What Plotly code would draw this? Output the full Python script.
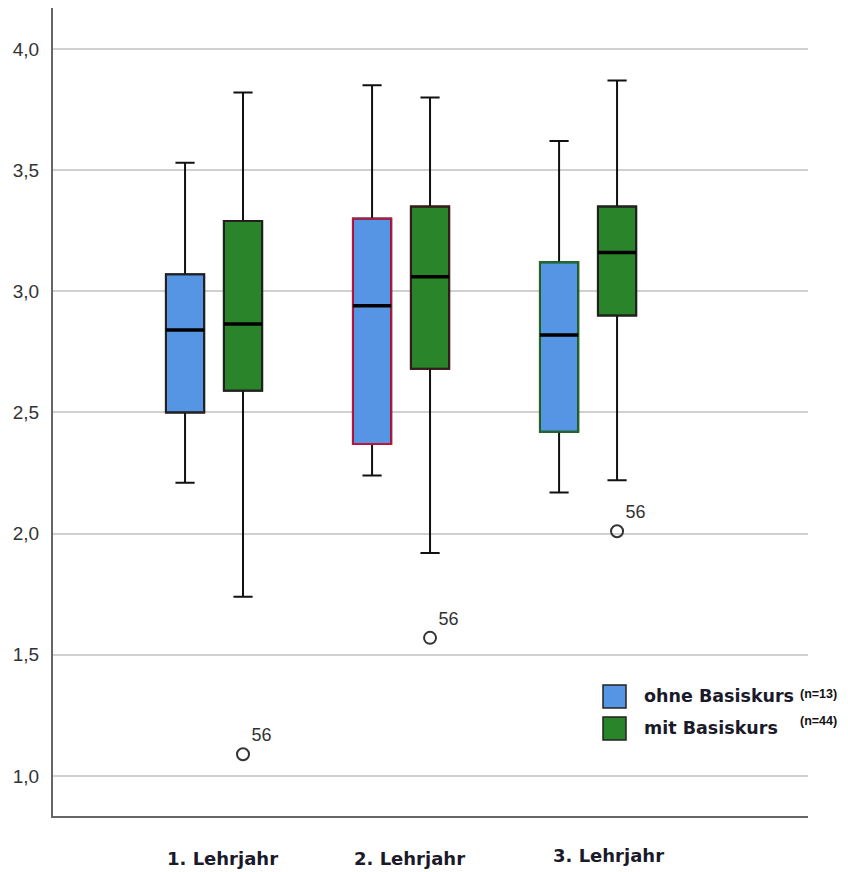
import plotly.graph_objects as go

# ---- data ----
categories = ["1. Lehrjahr", "2. Lehrjahr", "3. Lehrjahr"]
series_names = ["ohne Basiskurs", "mit Basiskurs"]
series_n = ["(n=13)", "(n=44)"]

ohne_upper = [3.53, 3.85, 3.62]
ohne_q3 = [3.07, 3.30, 3.12]
ohne_median = [2.84, 2.94, 2.82]
ohne_q1 = [2.50, 2.37, 2.42]
ohne_lower = [2.21, 2.24, 2.17]

mit_upper = [3.82, 3.80, 3.87]
mit_q3 = [3.29, 3.35, 3.35]
mit_median = [2.865, 3.06, 3.16]
mit_q1 = [2.59, 2.68, 2.90]
mit_lower = [1.74, 1.92, 2.22]

mit_outliers = [1.09, 1.57, 2.01]
outlier_labels = ["56", "56", "56"]

# ---- styling ----
BLUE = "#5694E4"
GREEN = "#2A852A"
ohne_edges = ["#222222", "#C0143C", "#1E6E1E"]
mit_edges = ["#222222", "#3a1a1a", "#222222"]
OFFSET = 0.155
BOX_W = 0.205

# page offset (browser body margin) compensation
PX0, PY0 = 45, 0      # plot area left/top inside figure
PW, PH = 755, 808     # plot area size

fig = go.Figure()

groups = [
    ("ohne", -OFFSET, BLUE, ohne_q1, ohne_median, ohne_q3, ohne_lower, ohne_upper, ohne_edges),
    ("mit", OFFSET, GREEN, mit_q1, mit_median, mit_q3, mit_lower, mit_upper, mit_edges),
]

shapes = []
for name, off, col, q1, med, q3, lo, up, edges in groups:
    for i in range(len(categories)):
        pos = i + 1 + off
        fig.add_trace(go.Box(
            x=[pos], q1=[q1[i]], median=[med[i]], q3=[q3[i]],
            lowerfence=[lo[i]], upperfence=[up[i]],
            width=BOX_W, fillcolor=col,
            line=dict(color="#111111", width=2),
            whiskerwidth=0.5, boxpoints=False, showlegend=False,
            hoverinfo="skip",
        ))
        shapes.append(dict(type="rect", xref="x", yref="y",
                           x0=pos - BOX_W / 2, x1=pos + BOX_W / 2, y0=q1[i], y1=q3[i],
                           line=dict(color=edges[i], width=1.8), fillcolor="rgba(0,0,0,0)",
                           layer="above"))
        shapes.append(dict(type="line", xref="x", yref="y",
                           x0=pos - BOX_W / 2, x1=pos + BOX_W / 2, y0=med[i], y1=med[i],
                           line=dict(color="black", width=3.5), layer="above"))

fig.add_trace(go.Scatter(
    x=[i + 1 + OFFSET for i in range(len(categories))], y=mit_outliers,
    mode="markers+text", text=outlier_labels, textposition="top right",
    textfont=dict(family="Liberation Sans, Arial", size=18, color="#333333"),
    marker=dict(symbol="circle-open", size=12, color="#333333", line=dict(width=2)),
    showlegend=False, hoverinfo="skip",
))

annotations = []
label_shift = [8, 8, 20]
label_y = [-42, -42, -39]
for i, c in enumerate(categories):
    annotations.append(dict(
        x=i + 1, y=0, xref="x", yref="paper", text=c, showarrow=False,
        xshift=label_shift[i], yshift=label_y[i], yanchor="middle",
        font=dict(family="DejaVu Sans", size=18, color="#1a1a2a", weight="bold"),
    ))

# manual legend (page coordinates of reference, converted to paper)
leg_colors = [BLUE, GREEN]
leg_y = [696, 728]
n_y = [694, 721]
def px(x):
    return (x - 8 - PX0) / PW
def py(y):
    return (PH - (y - 8 - PY0)) / PH
for k in range(2):
    shapes.append(dict(type="rect", xref="paper", yref="paper",
                       x0=px(603), x1=px(626),
                       y0=py(leg_y[k] + 12), y1=py(leg_y[k] - 11),
                       line=dict(color="#222222", width=1.5), fillcolor=leg_colors[k]))
    annotations.append(dict(x=px(642), y=py(leg_y[k]), xref="paper", yref="paper",
                            xanchor="left", yanchor="middle", text=series_names[k], showarrow=False,
                            font=dict(family="DejaVu Sans", size=17.5, color="#1a1a2a", weight="bold")))
    annotations.append(dict(x=px(798), y=py(n_y[k]), xref="paper", yref="paper",
                            xanchor="left", yanchor="middle", text=series_n[k], showarrow=False,
                            font=dict(family="Liberation Sans, Arial", size=12.5, color="#111111", weight="bold")))

fig.update_layout(
    width=840, height=864,
    margin=dict(l=PX0, r=840 - PX0 - PW, t=PY0, b=864 - PY0 - PH),
    paper_bgcolor="white", plot_bgcolor="white",
    separators=",.",
    shapes=shapes, annotations=annotations,
    showlegend=False,
    xaxis=dict(range=[0.139, 4.176], showgrid=False, zeroline=False, showticklabels=False,
               showline=True, linecolor="#666666", linewidth=2, ticks=""),
    yaxis=dict(range=[0.835, 4.169], tickvals=[1.0, 1.5, 2.0, 2.5, 3.0, 3.5, 4.0], tickformat=".1f",
               showgrid=True, gridcolor="#D0D0D0", gridwidth=2, zeroline=False,
               showline=True, linecolor="#666666", linewidth=2, ticks="",
               ticklabelstandoff=8,
               tickfont=dict(family="Liberation Sans, Arial", size=19, color="#333333")),
)

fig.write_html("out.html")
